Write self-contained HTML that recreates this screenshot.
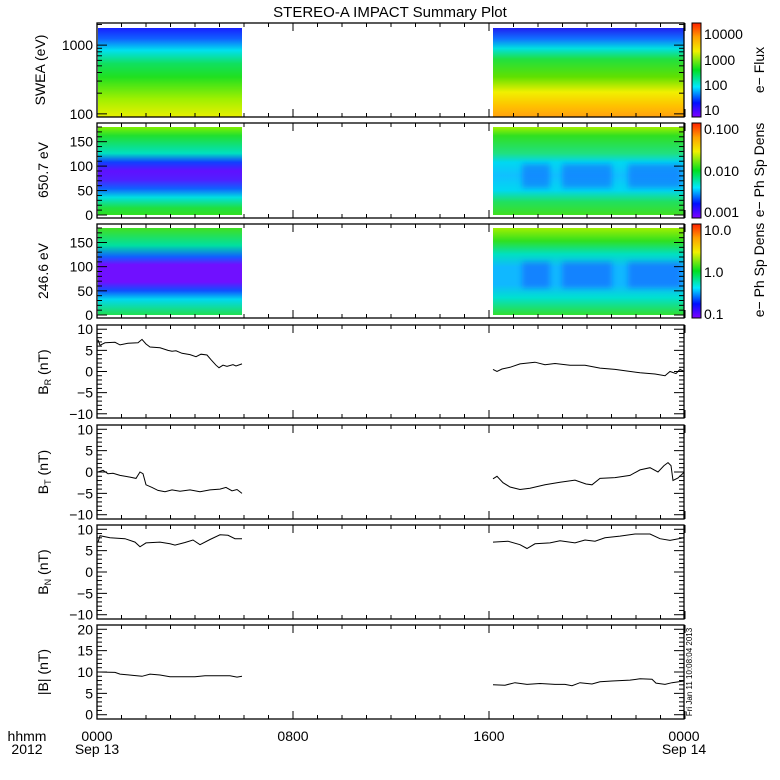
<!DOCTYPE html>
<html><head><meta charset="utf-8"><style>
body{margin:0;background:#fff}
svg{display:block}
text{font-family:"Liberation Sans",sans-serif;fill:#000}
</style></head><body>
<svg id="s" width="780" height="780" xmlns="http://www.w3.org/2000/svg">
<defs>
<filter id="bl" x="-20%" y="-50%" width="140%" height="200%"><feGaussianBlur stdDeviation="3"/></filter>
<clipPath id="c2"><rect x="493" y="127" width="191" height="88"/></clipPath>
<clipPath id="c3"><rect x="493" y="228" width="191" height="87"/></clipPath>
<linearGradient id="rb" x1="0" y1="1" x2="0" y2="0">
<stop offset="0" stop-color="#7f00ff"/><stop offset="0.15" stop-color="#0010ff"/><stop offset="0.32" stop-color="#00e8ff"/><stop offset="0.5" stop-color="#00e020"/><stop offset="0.7" stop-color="#f0f000"/><stop offset="0.85" stop-color="#ffa000"/><stop offset="1" stop-color="#ff2000"/>
</linearGradient>
<linearGradient id="p1l" x1="0" y1="0" x2="0" y2="1">
<stop offset="0" stop-color="#1820ff"/><stop offset="0.12" stop-color="#1060ff"/><stop offset="0.25" stop-color="#00e0f0"/><stop offset="0.4" stop-color="#10e060"/><stop offset="0.55" stop-color="#20e020"/><stop offset="0.8" stop-color="#a0f000"/><stop offset="1" stop-color="#e8f000"/>
</linearGradient>
<linearGradient id="p1r" x1="0" y1="0" x2="0" y2="1">
<stop offset="0" stop-color="#2020f0"/><stop offset="0.12" stop-color="#1070ff"/><stop offset="0.23" stop-color="#00e0e0"/><stop offset="0.35" stop-color="#20e040"/><stop offset="0.55" stop-color="#60e000"/><stop offset="0.72" stop-color="#f0f000"/><stop offset="0.88" stop-color="#ffc000"/><stop offset="1" stop-color="#ffa010"/>
</linearGradient>
<linearGradient id="p2l" x1="0" y1="0" x2="0" y2="1">
<stop offset="0" stop-color="#80f000"/><stop offset="0.1" stop-color="#20e030"/><stop offset="0.3" stop-color="#00e0c0"/><stop offset="0.4" stop-color="#1040ff"/><stop offset="0.5" stop-color="#6010ff"/><stop offset="0.6" stop-color="#5020ff"/><stop offset="0.7" stop-color="#1060ff"/><stop offset="0.8" stop-color="#00e0e0"/><stop offset="0.92" stop-color="#20e040"/><stop offset="1" stop-color="#30e020"/>
</linearGradient>
<linearGradient id="p2r" x1="0" y1="0" x2="0" y2="1">
<stop offset="0" stop-color="#a0f000"/><stop offset="0.1" stop-color="#30e020"/><stop offset="0.3" stop-color="#20e080"/><stop offset="0.4" stop-color="#00d8f0"/><stop offset="0.55" stop-color="#10c0ff"/><stop offset="0.72" stop-color="#00d8f0"/><stop offset="0.85" stop-color="#20e060"/><stop offset="1" stop-color="#40e020"/>
</linearGradient>
<linearGradient id="p3l" x1="0" y1="0" x2="0" y2="1">
<stop offset="0" stop-color="#40e020"/><stop offset="0.2" stop-color="#00e0a0"/><stop offset="0.33" stop-color="#1060ff"/><stop offset="0.42" stop-color="#7010ff"/><stop offset="0.62" stop-color="#7010ff"/><stop offset="0.72" stop-color="#1050ff"/><stop offset="0.82" stop-color="#00d8f0"/><stop offset="1" stop-color="#20e050"/>
</linearGradient>
<linearGradient id="p3r" x1="0" y1="0" x2="0" y2="1">
<stop offset="0" stop-color="#a0f000"/><stop offset="0.15" stop-color="#30e020"/><stop offset="0.3" stop-color="#00e0c0"/><stop offset="0.45" stop-color="#10b8ff"/><stop offset="0.65" stop-color="#10b8ff"/><stop offset="0.8" stop-color="#00e0d0"/><stop offset="1" stop-color="#30e030"/>
</linearGradient>
</defs>
<text x="390" y="17" font-size="15" text-anchor="middle">STEREO-A IMPACT Summary Plot</text>
<g id="g"></g>
</svg>
<script>
var g=document.getElementById('g'),h='';
function X(t){return 97+t/24*588;}
function L(x1,y1,x2,y2){h+='<line x1="'+x1+'" y1="'+y1+'" x2="'+x2+'" y2="'+y2+'" stroke="#000" stroke-width="1"/>';}
function T(x,y,s,a,fs,extra){h+='<text x="'+x+'" y="'+y+'" font-size="'+(fs||14)+'" text-anchor="'+(a||'end')+'" '+(extra||'')+'>'+s+'</text>';}
var P=[[23,117],[123,218],[224,318],[325,418],[425,519],[525,619],[625,719]];
h+='<rect x="98" y="28" width="144" height="89" fill="url(#p1l)"/><rect x="493" y="28" width="191" height="89" fill="url(#p1r)"/>';
h+='<rect x="98" y="127" width="144" height="88" fill="url(#p2l)"/><rect x="493" y="127" width="191" height="88" fill="url(#p2r)"/>';
h+='<rect x="98" y="228" width="144" height="87" fill="url(#p3l)"/><rect x="493" y="228" width="191" height="87" fill="url(#p3r)"/>';
var s2='',s3='';
[[522,550],[562,612],[628,682]].forEach(function(r){s2+='<rect x="'+r[0]+'" y="164" width="'+(r[1]-r[0])+'" height="24" fill="#1060ff" opacity="0.55"/>';s3+='<rect x="'+r[0]+'" y="262" width="'+(r[1]-r[0])+'" height="26" fill="#1050ff" opacity="0.5"/>';});
h+='<g clip-path="url(#c2)"><g filter="url(#bl)">'+s2+'</g></g><g clip-path="url(#c3)"><g filter="url(#bl)">'+s3+'</g></g>';
P.forEach(function(p,i){
 h+='<rect x="97" y="'+p[0]+'" width="587" height="'+(p[1]-p[0])+'" fill="none" stroke="#000" stroke-width="1.3"/>';
 for(var t=0;t<=24;t++){var x=X(t),l=(t%8==0)?8:4;L(x,p[0],x,p[0]+l);L(x,p[1],x,p[1]-l);}
});
[[23,117],[123,218],[224,318]].forEach(function(p){h+='<rect x="692" y="'+p[0]+'" width="9" height="'+(p[1]-p[0])+'" fill="url(#rb)" stroke="#000" stroke-width="1"/>';});
T(704,39,'10000','start');T(704,65,'1000','start');T(704,90,'100','start');T(704,115,'10','start');
T(704,134,'0.100','start');T(704,176,'0.010','start');T(704,217,'0.001','start');
T(704,235,'10.0','start');T(704,277,'1.0','start');T(704,319,'0.1','start');
T(0,0,'e&#8722;  Flux','middle',14,'transform="translate(764,70) rotate(-90)"');
T(0,0,'e&#8722;  Ph Sp Dens','middle',14,'transform="translate(764,170) rotate(-90)"');
T(0,0,'e&#8722;  Ph Sp Dens','middle',14,'transform="translate(764,270) rotate(-90)"');
function yt(p,vmin,vmax,maj,minr,labs){
 var f=function(v){return p[1]-(v-vmin)/(vmax-vmin)*(p[1]-p[0]);};
 for(var v=Math.ceil(vmin/minr)*minr;v<=vmax+1e-9;v+=minr){var y=f(v),m=Math.abs(v/maj-Math.round(v/maj))<1e-6,l=m?10:5;L(97,y,97+l,y);L(684,y,684-l,y);}
 labs.forEach(function(v){T(93,f(v)+5,v<0?'&#8722;'+(-v):v);});
}
(function(){var p=P[0],lo=Math.log10(90),hi=Math.log10(2100);var f=function(v){return p[1]-(Math.log10(v)-lo)/(hi-lo)*(p[1]-p[0]);};
 for(var d=100;d<=1000;d*=10)for(var k=1;k<10;k++){var v=d*k;if(v>2100)break;var y=f(v),l=(k==1)?10:5;L(97,y,97+l,y);L(684,y,684-l,y);}
 T(93,f(100)+5,'100');T(93,f(1000)+5,'1000');})();
yt([127,215],0,180,50,10,[0,50,100,150]);
yt([228,315],0,180,50,10,[0,50,100,150]);
for(var i=3;i<6;i++)yt(P[i],-11,11,5,1,[-10,-5,0,5,10]);
yt(P[6],-1,21,5,1,[0,5,10,15,20]);
function yl(y,s,x){T(0,0,s,'middle',14,'transform="translate('+(x||48)+','+y+') rotate(-90)"');}
yl(70,'SWEA (eV)',45);yl(170,'650.7  eV');yl(271,'246.6  eV');
yl(372,'B<tspan font-size="9" dy="3">R</tspan><tspan dy="-3"> (nT)</tspan>');
yl(472,'B<tspan font-size="9" dy="3">T</tspan><tspan dy="-3"> (nT)</tspan>');
yl(572,'B<tspan font-size="9" dy="3">N</tspan><tspan dy="-3"> (nT)</tspan>');
yl(672,'|B| (nT)');
function line(p,vmin,vmax,pts){var s='';pts.forEach(function(q,j){var y=p[1]-(q[1]-vmin)/(vmax-vmin)*(p[1]-p[0]);s+=(j?'L':'M')+q[0]+' '+y.toFixed(1);});h+='<path d="'+s+'" fill="none" stroke="#000" stroke-width="1"/>';}
line(P[3],-11,11,[[98,7.5],[100,6.2],[105,6.8],[115,6.9],[120,6.3],[128,6.7],[138,6.8],[142,7.6],[146,6.5],[150,5.8],[160,5.6],[168,5],[172,4.8],[176,4.9],[182,4.3],[190,4],[196,3.5],[201,4.1],[207,3.9],[211,2.8],[216,1.5],[219,0.9],[223,1.5],[227,1.2],[233,1.6],[236,1.3],[242,1.8]]);
line(P[3],-11,11,[[493,0.5],[497,0],[502,0.6],[510,1],[520,1.8],[535,2.2],[545,1.6],[555,1.9],[570,1.5],[585,1.5],[600,0.8],[615,0.5],[625,0.2],[640,-0.3],[655,-0.6],[665,-1],[670,0],[676,-0.5],[680,0.5],[684,0]]);
line(P[4],-11,11,[[98,0],[103,0.4],[108,-0.4],[113,-0.3],[120,-0.8],[130,-1.2],[136,-1.5],[140,0],[143,-0.4],[146,-3],[152,-3.6],[158,-4.3],[165,-4.6],[172,-4.2],[180,-4.5],[190,-4.2],[200,-4.6],[210,-4.2],[220,-4],[226,-3.6],[232,-4.4],[237,-4.1],[242,-5]]);
line(P[4],-11,11,[[493,-1.6],[497,-1],[503,-2.5],[510,-3.5],[520,-4.1],[530,-3.8],[545,-3],[560,-2.4],[575,-1.9],[586,-2.8],[592,-3],[600,-1.5],[615,-1.3],[630,-0.8],[640,0.5],[650,1],[658,0],[664,1.5],[668,2.2],[671,1.5],[673,-2],[678,-1.4],[684,-0.1]]);
line(P[5],-11,11,[[98,7],[100,8.5],[110,8],[125,7.8],[135,7],[140,5.9],[146,6.8],[160,7],[170,6.6],[175,6.3],[185,6.9],[193,7.5],[200,6.4],[210,7.6],[220,8.7],[228,8.6],[235,7.8],[242,7.8]]);
line(P[5],-11,11,[[493,7],[508,7.2],[520,6.4],[527,5.5],[535,6.6],[550,6.8],[560,7.3],[575,6.8],[585,7.5],[595,7.2],[605,8],[620,8.4],[635,8.9],[650,8.9],[660,7.8],[670,7.4],[684,8]]);
line(P[6],-1,21,[[98,10],[115,9.9],[120,9.5],[133,9.2],[142,9],[150,9.5],[160,9.3],[170,8.9],[195,8.9],[205,9.1],[230,9.1],[237,8.8],[242,9]]);
line(P[6],-1,21,[[493,7],[505,6.9],[515,7.5],[527,7.1],[540,7.3],[555,7.1],[565,7.1],[572,6.8],[580,7.5],[592,7.2],[600,7.7],[612,7.9],[630,8.1],[640,8.4],[652,8.3],[656,7.4],[665,7.1],[672,7.5],[684,7.9]]);
T(27,741,'hhmm','middle',14);T(27,754,'2012','middle',14);
T(97,741,'0000','middle',14);T(97,754,'Sep 13','middle',14);
T(X(8),741,'0800','middle',14);T(X(16),741,'1600','middle',14);
T(684,741,'0000','middle',14);T(684,754,'Sep 14','middle',14);
T(0,0,'Fri Jan 11 10:08:04 2013','middle',8,'transform="translate(692,672) rotate(-90)"');
g.innerHTML=h;
</script>
</body></html>
